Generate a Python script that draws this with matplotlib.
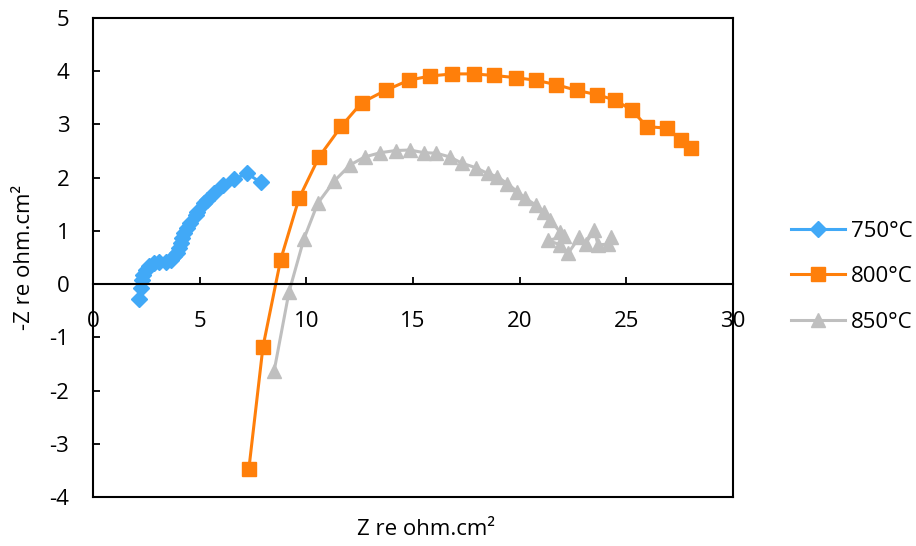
import matplotlib
matplotlib.use("Agg")
import matplotlib.pyplot as plt

plt.rcParams['font.family'] = ['Open Sans', 'DejaVu Sans']
plt.rcParams['axes.unicode_minus'] = False

labels = ['750°C', '800°C', '850°C']
colors = ['#41A9F7', '#FF7F0A', '#BFBFBF']

x750 = [2.16, 2.23, 2.31, 2.34, 2.47, 2.62, 2.86, 3.09, 3.41, 3.64, 3.80, 3.95, 4.03,
        4.11, 4.19, 4.27, 4.42, 4.53, 4.81, 4.89, 5.20, 5.36, 5.67, 6.09, 6.61, 7.23, 7.86]
y750 = [-0.28, -0.08, 0.08, 0.17, 0.27, 0.34, 0.39, 0.42, 0.42, 0.46, 0.52, 0.58, 0.67,
        0.77, 0.86, 0.96, 1.05, 1.14, 1.30, 1.36, 1.52, 1.58, 1.71, 1.86, 1.97, 2.08, 1.91]

x800 = [7.31, 7.97, 8.80, 9.66, 10.60, 11.65, 12.60, 13.72, 14.80, 15.80, 16.85, 17.86,
        18.80, 19.83, 20.77, 21.70, 22.69, 23.63, 24.47, 25.27, 25.97, 26.91, 27.57, 28.04]
y800 = [-3.47, -1.18, 0.46, 1.61, 2.39, 2.97, 3.41, 3.64, 3.83, 3.91, 3.95, 3.95,
        3.92, 3.88, 3.83, 3.75, 3.64, 3.56, 3.46, 3.27, 2.96, 2.93, 2.71, 2.55]

x850 = [8.49, 9.19, 9.89, 10.54, 11.32, 12.06, 12.74, 13.48, 14.19, 14.85, 15.52, 16.10,
        16.73, 17.31, 17.94, 18.50, 18.95, 19.42, 19.89, 20.28, 20.75, 21.14, 21.45,
        21.90, 22.08, 21.35, 21.90, 22.28, 22.80, 23.10, 23.50, 23.68, 24.15, 24.30]
y850 = [-1.64, -0.15, 0.85, 1.52, 1.94, 2.24, 2.39, 2.47, 2.51, 2.52, 2.47, 2.46,
        2.39, 2.27, 2.19, 2.08, 2.02, 1.89, 1.74, 1.61, 1.49, 1.36, 1.20,
        0.98, 0.90, 0.82, 0.74, 0.58, 0.88, 0.76, 1.02, 0.74, 0.75, 0.88]

xticks = [0, 5, 10, 15, 20, 25, 30]
yticks = [-4, -3, -2, -1, 0, 1, 2, 3, 4, 5]

fig = plt.figure(figsize=(9.16, 5.46), dpi=100)
ax = fig.add_axes([0.1015, 0.0897, 0.6985, 0.8773])

ax.plot(x750, y750, color=colors[0], lw=2.2, marker='D', ms=8, mec=colors[0], label=labels[0])
ax.plot(x800, y800, color=colors[1], lw=2.2, marker='s', ms=9.5, mec=colors[1], label=labels[1])
ax.plot(x850, y850, color=colors[2], lw=2.2, marker='^', ms=9.5, mec=colors[2], label=labels[2])

ax.set_xlim(0, 30)
ax.set_ylim(-4, 5)
ax.set_xticks(xticks)
ax.set_yticks(yticks)

# x axis sits on zero, box closed at the bottom
ax.spines['bottom'].set_position(('data', 0))
for s in ax.spines.values():
    s.set_linewidth(1.5)
ax.plot([0, 1], [0, 0], transform=ax.transAxes, color='black', lw=1.5, clip_on=False)
ax.tick_params(direction='in', length=5, width=1.3, labelsize=16)
ax.tick_params(axis='x', pad=19)
ax.tick_params(axis='y', pad=17)

ax.set_xlabel('Z re ohm.cm²', fontsize=16)
ax.xaxis.set_label_coords(0.52, -0.045)
ax.set_ylabel('-Z re ohm.cm²', fontsize=16)
ax.yaxis.set_label_coords(-0.09, 0.5)

ax.legend(loc='center left', bbox_to_anchor=(1.06, 0.46), frameon=False, fontsize=16,
          handlelength=2.4, labelspacing=1.1, handletextpad=0.3)

fig.savefig('out.png', dpi=100)
